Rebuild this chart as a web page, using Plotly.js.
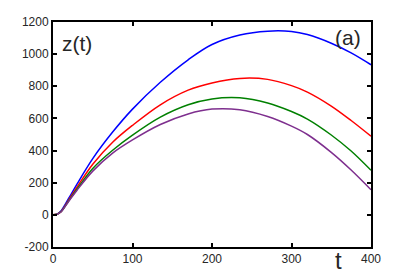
<!DOCTYPE html>
<html>
<head>
<meta charset="utf-8">
<script src="https://cdn.plot.ly/plotly-3.0.1.min.js"></script>
<style>
html,body{margin:0;padding:0;background:#fff;}
#chart{width:409px;height:278px;}
</style>
</head>
<body>
<div id="chart"></div>
<script>
const tValues = [0,5,10,20,30,50,75,100,135,170,200,235,270,300,320,350,375,400];
const zBlue   = [0,4,24,105,190,350,515,658,825,965,1060,1119,1143,1141,1122,1068,1008,934];
const zRed    = [0,4,20,95,171,315,452,557,685,776,821,849,843,804,764,677,587,489];
const zGreen  = [0,4,19,89,159,289,402,496,608,685,721,728,696,643,596,497,397,277];
const zPurple = [0,4,18,86,152,272,384,466,562,628,658,654,612,552,500,389,279,156];
const xTicks = [0,100,200,300,400];
const yTicks = [-200,0,200,400,600,800,1000,1200];

const frameColor = '#000000';
const textColor = '#262626';

const seriesList = [
  {y: zBlue, color: '#0000ff'},
  {y: zRed, color: '#ff0000'},
  {y: zGreen, color: '#008000'},
  {y: zPurple, color: '#7e2f8e'}
];
const traces = seriesList.map(s => ({
  x: tValues, y: s.y, type: 'scatter', mode: 'lines',
  line: {color: s.color, width: 1.5, shape: 'spline', smoothing: 1},
  hoverinfo: 'skip'
}));

const axisCommon = {
  showline: true, linecolor: frameColor, linewidth: 2, mirror: 'ticks',
  ticks: 'inside', ticklen: 4, tickwidth: 1.5, tickcolor: frameColor,
  showgrid: false, zeroline: false,
  tickfont: {family: 'Liberation Sans, Arial, sans-serif', size: 12, color: textColor}
};

const layout = {
  width: 409, height: 278,
  margin: {l: 53, r: 38, t: 22, b: 31},
  paper_bgcolor: 'white', plot_bgcolor: 'white',
  showlegend: false,
  xaxis: Object.assign({}, axisCommon, {range: [0, 400], tickvals: xTicks, ticktext: xTicks.map(String)}),
  yaxis: Object.assign({}, axisCommon, {range: [-200, 1200], tickvals: yTicks, ticktext: yTicks.map(String)}),
  annotations: [
    {text: 'z(t)', xref: 'paper', yref: 'paper', x: 0.021, y: 0.905, xanchor: 'left', yanchor: 'middle', showarrow: false,
     font: {family: 'Liberation Sans, Arial, sans-serif', size: 21, color: textColor}},
    {text: '(a)', xref: 'paper', yref: 'paper', x: 0.975, y: 0.929, xanchor: 'right', yanchor: 'middle', showarrow: false,
     font: {family: 'Liberation Sans, Arial, sans-serif', size: 21, color: textColor}},
    {text: 't', xref: 'paper', yref: 'paper', x: 0.8986, y: -0.062, xanchor: 'center', yanchor: 'middle', showarrow: false,
     font: {family: 'Liberation Sans, Arial, sans-serif', size: 24, color: textColor}}
  ]
};

Plotly.newPlot('chart', traces, layout, {displayModeBar: false});
</script>
</body>
</html>
